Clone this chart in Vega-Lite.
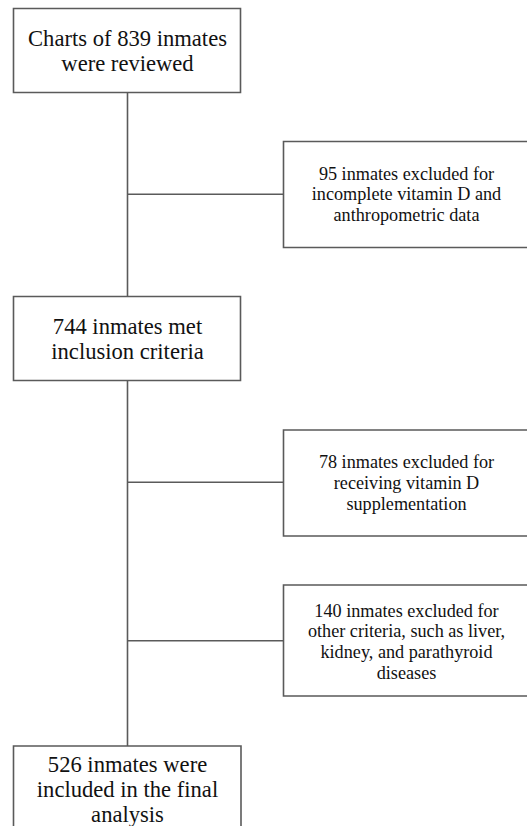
{
  "$schema": "https://vega.github.io/schema/vega-lite/v6.json",
  "width": 527,
  "height": 826,
  "padding": 0,
  "autosize": {"type": "none"},
  "background": "white",
  "config": {"view": {"stroke": null}},
  "datasets": {
    "boxes": [
      {"id": "reviewed", "x1": 13.5, "x2": 240.5, "y1": 8.5, "y2": 92.5},
      {"id": "excl1", "x1": 283.5, "x2": 532, "y1": 141.5, "y2": 247.5},
      {"id": "met", "x1": 13.5, "x2": 240.5, "y1": 296.5, "y2": 380.5},
      {"id": "excl2", "x1": 283.5, "x2": 532, "y1": 430, "y2": 536},
      {"id": "excl3", "x1": 283.5, "x2": 532, "y1": 585, "y2": 696},
      {"id": "final", "x1": 13.5, "x2": 241, "y1": 746, "y2": 860}
    ],
    "links": [
      {"x1": 127.5, "x2": 127.5, "y1": 92.5, "y2": 296.5},
      {"x1": 127.5, "x2": 127.5, "y1": 380.5, "y2": 746},
      {"x1": 127.5, "x2": 283.5, "y1": 194.3, "y2": 194.3},
      {"x1": 127.5, "x2": 283.5, "y1": 482.3, "y2": 482.3},
      {"x1": 127.5, "x2": 283.5, "y1": 640.7, "y2": 640.7}
    ],
    "labels": [
      {"kind": "main", "x": 127.5, "y": 46.3, "text": "Charts of 839 inmates"},
      {"kind": "main", "x": 127.5, "y": 71, "text": "were reviewed"},
      {"kind": "side", "x": 406.5, "y": 179.5, "text": "95 inmates excluded for"},
      {"kind": "side", "x": 406.5, "y": 200.2, "text": "incomplete vitamin D and"},
      {"kind": "side", "x": 406.5, "y": 220.9, "text": "anthropometric data"},
      {"kind": "main", "x": 127.5, "y": 334, "text": "744 inmates met"},
      {"kind": "main", "x": 127.5, "y": 359, "text": "inclusion criteria"},
      {"kind": "side", "x": 406.5, "y": 468.3, "text": "78 inmates excluded for"},
      {"kind": "side", "x": 406.5, "y": 489, "text": "receiving vitamin D"},
      {"kind": "side", "x": 406.5, "y": 509.7, "text": "supplementation"},
      {"kind": "side", "x": 406.5, "y": 616.6, "text": "140 inmates excluded for"},
      {"kind": "side", "x": 406.5, "y": 637.3, "text": "other criteria, such as liver,"},
      {"kind": "side", "x": 406.5, "y": 658, "text": "kidney, and parathyroid"},
      {"kind": "side", "x": 406.5, "y": 678.7, "text": "diseases"},
      {"kind": "main", "x": 127.5, "y": 771.5, "text": "526 inmates were"},
      {"kind": "main", "x": 127.5, "y": 796.5, "text": "included in the final"},
      {"kind": "main", "x": 127.5, "y": 821.5, "text": "analysis"}
    ]
  },
  "layer": [
    {
      "data": {"name": "links"},
      "mark": {"type": "rule", "stroke": "#5a5a5a", "strokeWidth": 1.6},
      "encoding": {
        "x": {"field": "x1", "type": "quantitative", "scale": {"domain": [0, 527], "nice": false, "zero": false}, "axis": null},
        "x2": {"field": "x2"},
        "y": {"field": "y1", "type": "quantitative", "scale": {"domain": [0, 826], "nice": false, "zero": false, "reverse": true}, "axis": null},
        "y2": {"field": "y2"}
      }
    },
    {
      "data": {"name": "boxes"},
      "mark": {"type": "rect", "fill": "white", "stroke": "#5a5a5a", "strokeWidth": 1.6},
      "encoding": {
        "x": {"field": "x1", "type": "quantitative", "axis": null},
        "x2": {"field": "x2"},
        "y": {"field": "y1", "type": "quantitative", "axis": null},
        "y2": {"field": "y2"}
      }
    },
    {
      "data": {"name": "labels"},
      "transform": [{"filter": "datum.kind === 'main'"}],
      "mark": {"type": "text", "font": "Liberation Serif", "fontSize": 22.6, "align": "center", "baseline": "alphabetic", "color": "#111111"},
      "encoding": {
        "x": {"field": "x", "type": "quantitative", "axis": null},
        "y": {"field": "y", "type": "quantitative", "axis": null},
        "text": {"field": "text"}
      }
    },
    {
      "data": {"name": "labels"},
      "transform": [{"filter": "datum.kind === 'side'"}],
      "mark": {"type": "text", "font": "Liberation Serif", "fontSize": 18.2, "align": "center", "baseline": "alphabetic", "color": "#111111"},
      "encoding": {
        "x": {"field": "x", "type": "quantitative", "axis": null},
        "y": {"field": "y", "type": "quantitative", "axis": null},
        "text": {"field": "text"}
      }
    }
  ]
}
